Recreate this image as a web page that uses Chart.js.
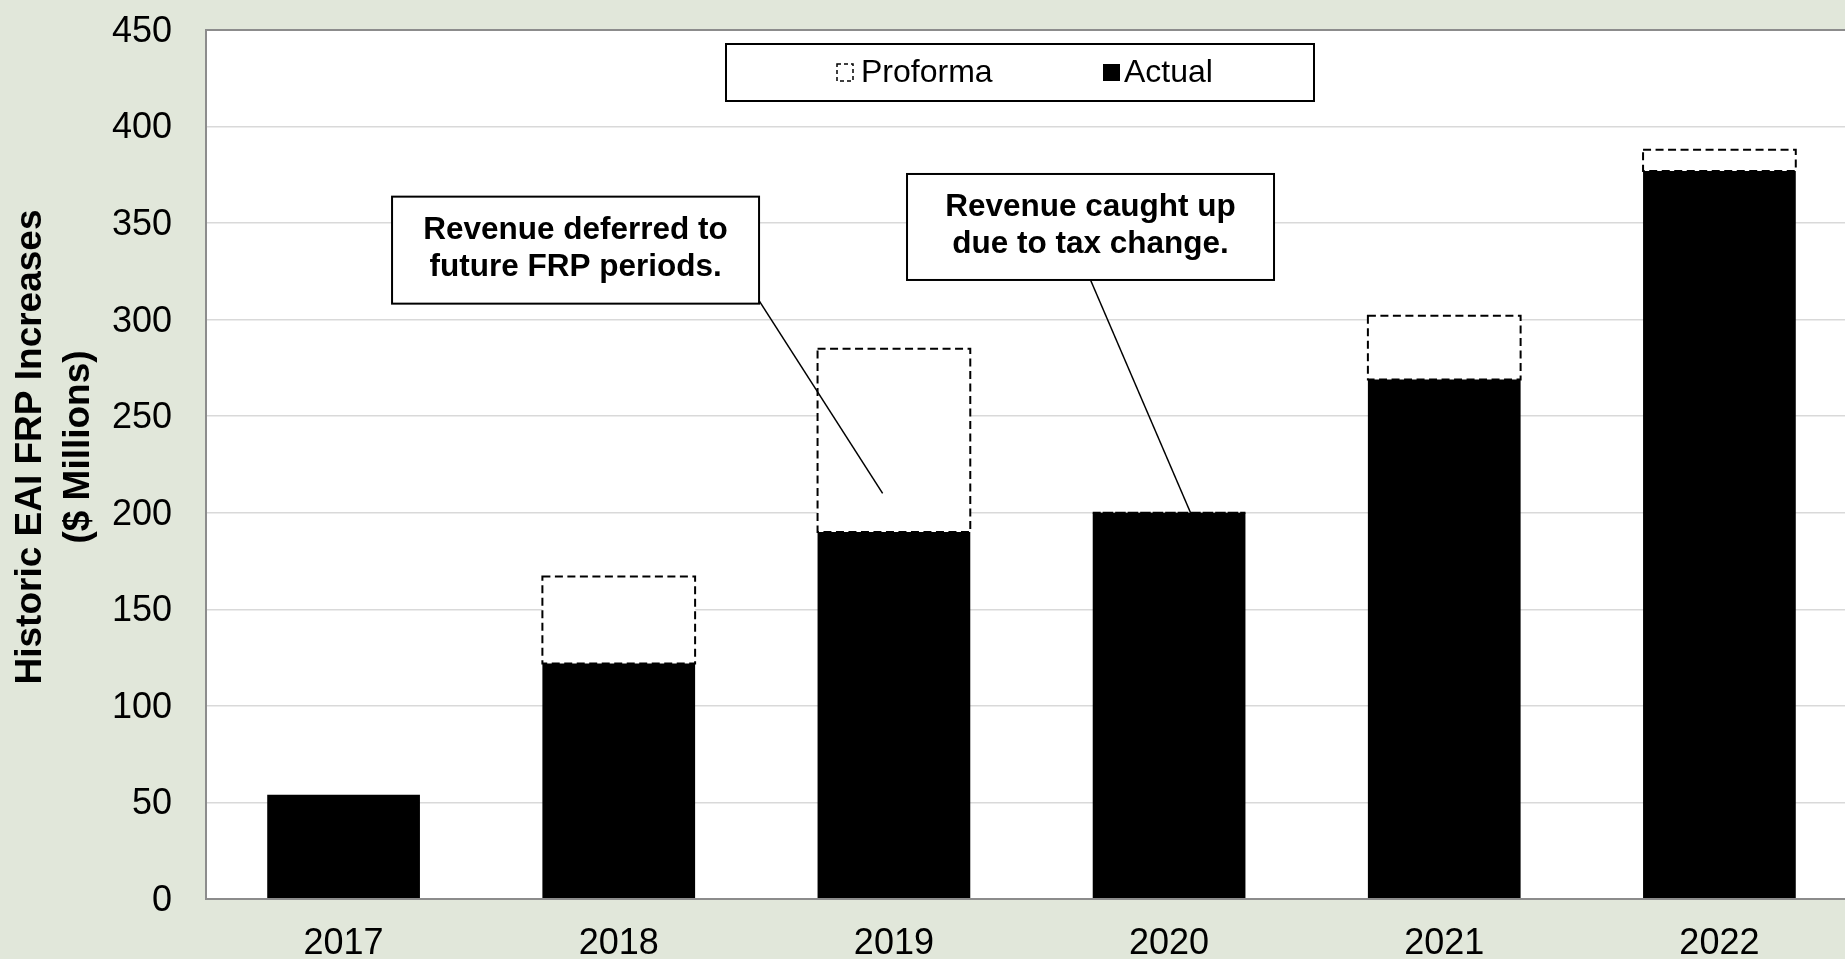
<!DOCTYPE html>
<html>
<head>
<meta charset="utf-8">
<script src="https://cdn.jsdelivr.net/npm/chart.js@4.4.1/dist/chart.umd.min.js"></script>
<style>
  html, body { margin: 0; padding: 0; overflow: hidden; background: #E1E7DA; width: 1845px; height: 959px; }
  #wrap { position: absolute; left: 0; top: 0; width: 1857px; height: 959px; }
</style>
</head>
<body>
<div id="wrap"><canvas id="c" width="1857" height="959" style="width:1857px;height:959px"></canvas></div>
<script>
// ---- data ----
const categories = ['2017', '2018', '2019', '2020', '2021', '2022'];
const actualValues = [54, 122, 190, 200, 269, 377];
const proformaValues = [null, 167, 285, 200, 302, 388];
const seriesNames = { proforma: 'Proforma', actual: 'Actual' };
const yAxisTitle = ['Historic EAI FRP Increases', '($ Millions)'];
const yMin = 0, yMax = 450, yStep = 50;
const calloutTexts = [
  ['Revenue deferred to', 'future FRP periods.'],
  ['Revenue caught up', 'due to tax change.']
];

// ---- layout / style (not data) ----
const FONT = '"Liberation Sans", Arial, sans-serif';
const callouts = [
  { lines: calloutTexts[0], cx: 0.843, cy: 336, w: 367, h: 107, from: 'br', tx: 1.959, ty: 210 },
  { lines: calloutTexts[1], cx: 2.7145, cy: 348, w: 367, h: 106, from: 'bc', tx: 3.078, ty: 200 }
];
const legendBox = { left: 726, top: 44, width: 588, height: 57 };

const plotBg = {
  id: 'plotBg',
  beforeDraw(chart) {
    const { ctx, chartArea: a } = chart;
    ctx.save();
    ctx.fillStyle = '#FFFFFF';
    ctx.fillRect(a.left, a.top, a.right - a.left, a.bottom - a.top);
    ctx.restore();
  }
};

const dashBorders = {
  id: 'dashBorders',
  afterDatasetsDraw(chart) {
    const meta = chart.getDatasetMeta(1);
    const ctx = chart.ctx;
    const data = chart.data.datasets[1].data;
    ctx.save();
    ctx.strokeStyle = '#000000';
    ctx.lineWidth = 2;
    ctx.setLineDash([8, 4.5]);
    meta.data.forEach((el, i) => {
      if (data[i] == null) return;
      const p = el.getProps(['x', 'y', 'base', 'width'], true);
      const l = p.x - p.width / 2;
      const t = Math.min(p.y, p.base);
      const h = Math.abs(p.base - p.y);
      ctx.beginPath();
      ctx.rect(l, t, p.width, h);
      ctx.stroke();
    });
    ctx.restore();

    // plot frame (left, top, bottom)
    const a = chart.chartArea;
    ctx.save();
    ctx.strokeStyle = '#8C8C8C';
    ctx.lineWidth = 2;
    ctx.beginPath();
    ctx.moveTo(a.right + 5, a.top);
    ctx.lineTo(a.left, a.top);
    ctx.lineTo(a.left, a.bottom);
    ctx.lineTo(a.right + 5, a.bottom);
    ctx.stroke();
    ctx.restore();
  }
};

const overlays = {
  id: 'overlays',
  afterDraw(chart) {
    const ctx = chart.ctx;
    const xs = chart.scales.x, ys = chart.scales.y;

    // callouts
    callouts.forEach(c => {
      const px = xs.getPixelForValue(c.cx);
      const py = ys.getPixelForValue(c.cy);
      const l = px - c.w / 2, t = py - c.h / 2;
      const tx = xs.getPixelForValue(c.tx), ty = ys.getPixelForValue(c.ty);
      ctx.save();
      ctx.strokeStyle = '#000000';
      ctx.lineWidth = 1.5;
      ctx.beginPath();
      if (c.from === 'br') ctx.moveTo(l + c.w, t + c.h - 3);
      else ctx.moveTo(px, t + c.h);
      ctx.lineTo(tx, ty);
      ctx.stroke();
      ctx.fillStyle = '#FFFFFF';
      ctx.fillRect(l, t, c.w, c.h);
      ctx.lineWidth = 2;
      ctx.strokeRect(l, t, c.w, c.h);
      ctx.fillStyle = '#000000';
      ctx.font = 'bold 31.5px ' + FONT;
      ctx.textAlign = 'center';
      ctx.textBaseline = 'middle';
      ctx.fillText(c.lines[0], px, py - 20);
      ctx.fillText(c.lines[1], px, py + 17);
      ctx.restore();
    });

    // legend
    const ds = chart.data.datasets;
    const lb = legendBox;
    ctx.save();
    ctx.fillStyle = '#FFFFFF';
    ctx.fillRect(lb.left, lb.top, lb.width, lb.height);
    ctx.strokeStyle = '#000000';
    ctx.lineWidth = 2;
    ctx.strokeRect(lb.left, lb.top, lb.width, lb.height);
    const cy = lb.top + lb.height / 2;
    // proforma icon
    ctx.lineWidth = 1.5;
    ctx.setLineDash([4, 3]);
    ctx.strokeRect(lb.left + 111, cy - 8.5, 16, 17);
    ctx.setLineDash([]);
    ctx.fillStyle = '#000000';
    ctx.font = '32px ' + FONT;
    ctx.textAlign = 'left';
    ctx.textBaseline = 'middle';
    ctx.fillText(ds[1].label, lb.left + 135, cy + 1);
    // actual icon
    ctx.fillRect(lb.left + 377, cy - 8.5, 17, 17);
    ctx.fillText(ds[0].label, lb.left + 398, cy + 1);
    ctx.restore();

    // y axis title
    ctx.save();
    ctx.fillStyle = '#000000';
    ctx.font = 'bold 37px ' + FONT;
    ctx.textAlign = 'center';
    ctx.textBaseline = 'middle';
    ctx.translate(31, 447);
    ctx.rotate(-Math.PI / 2);
    ctx.fillText(yAxisTitle[0], 0, 0);
    ctx.fillText(yAxisTitle[1], 0, 48);
    ctx.restore();
  }
};

new Chart(document.getElementById('c'), {
  type: 'bar',
  data: {
    labels: categories,
    datasets: [
      {
        label: seriesNames.actual,
        data: actualValues,
        backgroundColor: '#000000',
        borderWidth: 0,
        barPercentage: 0.555,
        categoryPercentage: 1.0
      },
      {
        label: seriesNames.proforma,
        data: proformaValues.map((v, i) => v == null ? null : [actualValues[i], v]),
        backgroundColor: '#FFFFFF',
        borderWidth: 0,
        barPercentage: 0.555,
        categoryPercentage: 1.0
      }
    ]
  },
  options: {
    responsive: false,
    animation: false,
    devicePixelRatio: 1,
    layout: { padding: { top: 0, left: 0, right: 0, bottom: 0 } },
    plugins: {
      legend: { display: false },
      tooltip: { enabled: false },
      title: { display: false }
    },
    scales: {
      x: {
        stacked: true,
        grid: { display: false, drawTicks: false },
        border: { display: false },
        ticks: {
          color: '#000000',
          font: { family: FONT, size: 36 },
          padding: 23,
          maxRotation: 0
        },
        afterFit(scale) { scale.height = 60; scale.paddingLeft = 0; scale.paddingRight = 0; }
      },
      y: {
        stacked: false,
        min: yMin,
        max: yMax,
        grid: { color: '#D9D9D9', lineWidth: 1.5, drawTicks: false },
        border: { display: false },
        ticks: {
          stepSize: yStep,
          color: '#000000',
          font: { family: FONT, size: 36 },
          padding: 34,
          labelOffset: 2
        },
        afterFit(scale) { scale.width = 206; scale.paddingTop = 30; scale.paddingBottom = 0; }
      }
    }
  },
  plugins: [plotBg, dashBorders, overlays]
});
</script>
</body>
</html>
